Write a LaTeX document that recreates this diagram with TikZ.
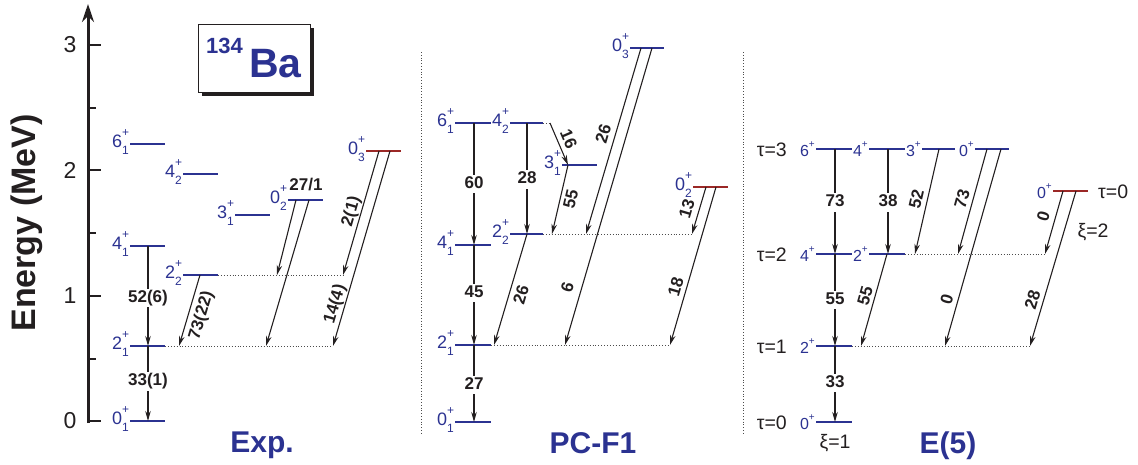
\documentclass[tikz,border=0pt]{standalone}
\usepackage{fontspec}
\setmainfont{Liberation Sans}
\usetikzlibrary{arrows.meta}
\definecolor{lvblue}{RGB}{43,50,145}
\definecolor{lvred}{RGB}{155,40,38}
\definecolor{txtdark}{RGB}{35,31,32}
\newcommand{\lvlab}[3]{#1\makebox[0pt][l]{\raisebox{0.62em}{\fontsize{12}{12}\selectfont #3}}\raisebox{-0.42em}{\fontsize{12}{12}\selectfont #2}}
\newcommand{\lvsup}[2]{#1\raisebox{0.55em}{\fontsize{10}{10}\selectfont #2}}
\newcommand{\mklevel}[5]{\coordinate (#1l) at (#2,#4); \coordinate (#1r) at (#3,#4); \draw[#5] (#1l) -- (#1r);}
\begin{document}
\begin{tikzpicture}[x=1pt,y=-1pt,
  level/.style={line width=2.8pt, lvblue},
  rlevel/.style={line width=2.8pt, lvred},
  trans/.style={line width=1.1pt, txtdark, -{Stealth[length=10pt,width=5.5pt]}},
  dots/.style={dotted, line width=0.9pt, black!70},
  num/.style={font=\fontsize{17}{17}\selectfont\bfseries, text=txtdark, inner sep=1pt, text height=12pt, text depth=3.5pt},
  vnum/.style={num, fill=white, inner sep=1.5pt},
  lab/.style={font=\fontsize{18}{18}\selectfont, text=lvblue, anchor=east, inner sep=1pt, yshift=2pt},
  elab/.style={font=\fontsize{16}{16}\selectfont, text=lvblue, anchor=east, inner sep=1pt},
  tau/.style={font=\fontsize{19.5}{19.5}\selectfont, text=txtdark, inner sep=1pt},
  paneltitle/.style={font=\fontsize{30}{30}\selectfont\bfseries, text=lvblue, anchor=base},
  ticklab/.style={font=\fontsize{23}{23}\selectfont, text=txtdark},
  sep/.style={dotted, line width=0.8pt, black!70}
]
\useasboundingbox (0,0) rectangle (1138,464);

% ---------- axis ----------
\coordinate (ax0) at (88,423);
\coordinate (ax1) at (88,4);
\draw[line width=3pt, txtdark, -{Stealth[length=18pt,width=12pt]}] (ax0) -- (ax1);
\foreach \yy/\t in {421/0,296/1,170/2,45/3}{
  \draw[line width=2.5pt, txtdark] (88,\yy) -- (101,\yy);
  \node[ticklab] (tick\t) at (70,\yy) {\t};
}
\foreach \yy in {359,233,108}{
  \draw[line width=2pt, txtdark] (88,\yy) -- (96,\yy);
}
\node[rotate=90, font=\fontsize{34}{34}\selectfont\bfseries, text=txtdark] (ylabel) at (27,223) {Energy (MeV)};

% ---------- title box ----------
\fill[txtdark] (202,28) rectangle (314,96);
\draw[draw=txtdark, fill=white, line width=0.8pt] (198,24) rectangle (310,92);
\node[anchor=base west, inner sep=0, font=\fontsize{22}{22}\selectfont\bfseries, text=lvblue] (mass) at (206,53) {134};
\node[anchor=base west, inner sep=0, font=\fontsize{41}{41}\selectfont\bfseries, text=lvblue] (elem) at (249,77) {Ba};

% ---------- separators ----------
\coordinate (s1a) at (421,52); \coordinate (s1b) at (421,433);
\coordinate (s2a) at (743,52); \coordinate (s2b) at (743,433);
\draw[sep] (s1a) -- (s1b);
\draw[sep] (s2a) -- (s2b);

% ================= Exp. =================
\mklevel{e01}{130}{165}{421}{level}
\mklevel{e21}{130}{165}{346}{level}
\mklevel{e41}{130}{165}{246}{level}
\mklevel{e61}{130}{165}{144}{level}
\mklevel{e42}{183}{218}{174}{level}
\mklevel{e22}{183}{218}{275}{level}
\mklevel{e31}{235}{270}{215}{level}
\mklevel{e02}{288}{323}{200}{level}
\mklevel{e03}{366}{401}{151}{rlevel}
\node[lab] (e01t) at (e01l) {\lvlab{0}{1}{+}};
\node[lab] (e21t) at (e21l) {\lvlab{2}{1}{+}};
\node[lab] (e41t) at (e41l) {\lvlab{4}{1}{+}};
\node[lab] (e61t) at (e61l) {\lvlab{6}{1}{+}};
\node[lab] (e42t) at (e42l) {\lvlab{4}{2}{+}};
\node[lab] (e22t) at (e22l) {\lvlab{2}{2}{+}};
\node[lab] (e31t) at (e31l) {\lvlab{3}{1}{+}};
\node[lab] (e02t) at (e02l) {\lvlab{0}{2}{+}};
\node[lab] (e03t) at (e03l) {\lvlab{0}{3}{+}};

\coordinate (xA1) at (148,246); \coordinate (xA2) at (148,346); \coordinate (xA3) at (148,421);
\coordinate (xB1) at (200,275); \coordinate (xB2) at (179,346);
\coordinate (xC1) at (296,200); \coordinate (xC2) at (277,275);
\coordinate (xD1) at (309,200); \coordinate (xD2) at (266,346);
\coordinate (xE1) at (379,151); \coordinate (xE2) at (343,275);
\coordinate (xF1) at (390,151); \coordinate (xF2) at (333,346);

\draw[dots] (e22r) -- (xE2);
\draw[dots] (e21r) -- (xF2);

\draw[trans] (xA1) -- node[vnum, pos=0.52] (xl1) {52(6)} (xA2);
\draw[trans] (xA2) -- node[vnum, pos=0.47] (xl2) {33(1)} (xA3);
\draw[trans] (xB1) -- node[num, sloped, pos=0.52, below=4pt] (xl3) {73(22)} (xB2);
\draw[trans] (xC1) -- (xC2);
\draw[trans] (xD1) -- (xD2);
\draw[trans] (xE1) -- node[num, sloped, pos=0.51, above=0pt] (xl4) {2(1)} (xE2);
\draw[trans] (xF1) -- node[num, sloped, pos=0.80, above=0pt] (xl5) {14(4)} (xF2);
\node[num] (xl6) at (306,186) {27/1};

\node[paneltitle] (texp) at (262,452) {Exp.};

% ================= PC-F1 =================
\mklevel{p01}{455}{491}{422}{level}
\mklevel{p21}{455}{491}{345}{level}
\mklevel{p41}{455}{491}{245}{level}
\mklevel{p61}{455}{491}{123}{level}
\mklevel{p22}{510}{543}{234}{level}
\mklevel{p42}{510}{543}{123}{level}
\mklevel{p31}{562}{597}{165}{level}
\mklevel{p03}{630}{664}{48}{level}
\mklevel{p02}{693}{728}{187}{rlevel}
\node[lab] (p01t) at (p01l) {\lvlab{0}{1}{+}};
\node[lab] (p21t) at (p21l) {\lvlab{2}{1}{+}};
\node[lab] (p41t) at (p41l) {\lvlab{4}{1}{+}};
\node[lab] (p61t) at (p61l) {\lvlab{6}{1}{+}};
\node[lab] (p22t) at (p22l) {\lvlab{2}{2}{+}};
\node[lab] (p42t) at (p42l) {\lvlab{4}{2}{+}};
\node[lab] (p31t) at (p31l) {\lvlab{3}{1}{+}};
\node[lab] (p03t) at (p03l) {\lvlab{0}{3}{+}};
\node[lab] (p02t) at (p02l) {\lvlab{0}{2}{+}};

\coordinate (pA1) at (474,123); \coordinate (pA2) at (474,245); \coordinate (pA3) at (474,345); \coordinate (pA4) at (474,422);
\coordinate (pB1) at (527,123); \coordinate (pB2) at (527,234);
\coordinate (pC1) at (550,123); \coordinate (pC2) at (568,165);
\coordinate (pD2) at (552,234);
\coordinate (pE2) at (494,345);
\coordinate (pF1) at (641,48);  \coordinate (pF2) at (586,234);
\coordinate (pG1) at (652,48);  \coordinate (pG2) at (565,345);
\coordinate (pH1) at (706,187); \coordinate (pH2) at (692,234);
\coordinate (pI1) at (716,187); \coordinate (pI2) at (670,345);

\draw[dots] (p42r) -- (pC1);
\draw[dots] (p22r) -- (pH2);
\draw[dots] (p21r) -- (pI2);

\draw[trans] (pA1) -- node[vnum, pos=0.50] (pl1) {60} (pA2);
\draw[trans] (pA2) -- node[vnum, pos=0.48] (pl2) {45} (pA3);
\draw[trans] (pA3) -- node[vnum, pos=0.52] (pl3) {27} (pA4);
\draw[trans] (pB1) -- node[vnum, pos=0.51] (pl4) {28} (pB2);
\draw[trans] (pC1) -- node[num, sloped, pos=0.48, above=0pt] (pl5) {16} (pC2);
\draw[trans] (pC2) -- node[num, sloped, pos=0.46, below=2.5pt] (pl6) {55} (pD2);
\draw[trans] (pB2) -- node[num, sloped, pos=0.52, below=4pt] (pl7) {26} (pE2);
\draw[trans] (pF1) -- node[num, sloped, pos=0.48, above=1pt] (pl8) {26} (pF2);
\draw[trans] (pG1) -- node[num, sloped, pos=0.82, above=3pt] (pl9) {6} (pG2);
\draw[trans] (pH1) -- node[num, sloped, pos=0.53, above=1.5pt] (pl10) {13} (pH2);
\draw[trans] (pI1) -- node[num, sloped, pos=0.65, above=0pt] (pl11) {18} (pI2);

\node[paneltitle] (tpc) at (593,453) {PC-F1};

% ================= E(5) =================
\mklevel{q6}{816}{852}{149}{level}
\mklevel{q4b}{869}{905}{149}{level}
\mklevel{q3}{922}{955}{149}{level}
\mklevel{q0b}{975}{1009}{149}{level}
\mklevel{q4}{816}{852}{254}{level}
\mklevel{q2b}{869}{905}{254}{level}
\mklevel{q2}{816}{852}{346}{level}
\mklevel{q0}{816}{852}{422}{level}
\mklevel{q0r}{1053}{1088}{191}{rlevel}
\node[elab] (q6t) at (q6l) {\lvsup{6}{+}};
\node[elab] (q4bt) at (q4bl) {\lvsup{4}{+}};
\node[elab] (q3t) at (q3l) {\lvsup{3}{+}};
\node[elab] (q0bt) at (q0bl) {\lvsup{0}{+}};
\node[elab] (q4t) at (q4l) {\lvsup{4}{+}};
\node[elab] (q2bt) at (q2bl) {\lvsup{2}{+}};
\node[elab] (q2t) at (q2l) {\lvsup{2}{+}};
\node[elab] (q0t) at (q0l) {\lvsup{0}{+}};
\node[elab] (q0rt) at (q0rl) {\lvsup{0}{+}};

\node[tau, anchor=east] (tau3) at (788,150) {τ=3};
\node[tau, anchor=east] (tau2) at (788,255) {τ=2};
\node[tau, anchor=east] (tau1) at (788,347) {τ=1};
\node[tau, anchor=east] (tau0) at (788,423) {τ=0};
\node[tau, anchor=west] (tau0r) at (1097,192) {τ=0};
\node[tau] (xi1) at (835,443) {ξ=1};
\node[tau] (xi2) at (1093,232) {ξ=2};

\coordinate (qA1) at (835,149); \coordinate (qA2) at (835,254); \coordinate (qA3) at (835,346); \coordinate (qA4) at (835,422);
\coordinate (qB1) at (888,149); \coordinate (qB2) at (888,254);
\coordinate (qC1) at (939,149); \coordinate (qC2) at (915,254);
\coordinate (qD1) at (987,149); \coordinate (qD2) at (958,254);
\coordinate (qE1) at (1001,149); \coordinate (qE2) at (945,346);
\coordinate (qF1) at (887,254); \coordinate (qF2) at (861,346);
\coordinate (qG1) at (1063,191); \coordinate (qG2) at (1045,254);
\coordinate (qH1) at (1076,191); \coordinate (qH2) at (1030,346);

\draw[dots] (q2br) -- (qG2);
\draw[dots] (q2r) -- (qH2);

\draw[trans] (qA1) -- node[vnum, pos=0.51] (ql1) {73} (qA2);
\draw[trans] (qA2) -- node[vnum, pos=0.50] (ql2) {55} (qA3);
\draw[trans] (qA3) -- node[vnum, pos=0.49] (ql3) {33} (qA4);
\draw[trans] (qB1) -- node[vnum, pos=0.51] (ql4) {38} (qB2);
\draw[trans] (qC1) -- node[num, sloped, pos=0.50, above=0pt] (ql5) {52} (qC2);
\draw[trans] (qD1) -- node[num, sloped, pos=0.50, above=0pt] (ql6) {73} (qD2);
\draw[trans] (qE1) -- node[num, sloped, pos=0.78, above=0pt] (ql7) {0} (qE2);
\draw[trans] (qF1) -- node[num, sloped, pos=0.48, above=-1pt] (ql8) {55} (qF2);
\draw[trans] (qG1) -- node[num, sloped, pos=0.46, above=1pt] (ql9) {0} (qG2);
\draw[trans] (qH1) -- node[num, sloped, pos=0.72, above=0pt] (ql10) {28} (qH2);

\node[paneltitle] (te5) at (948,453) {E(5)};
\end{tikzpicture}
\end{document}
